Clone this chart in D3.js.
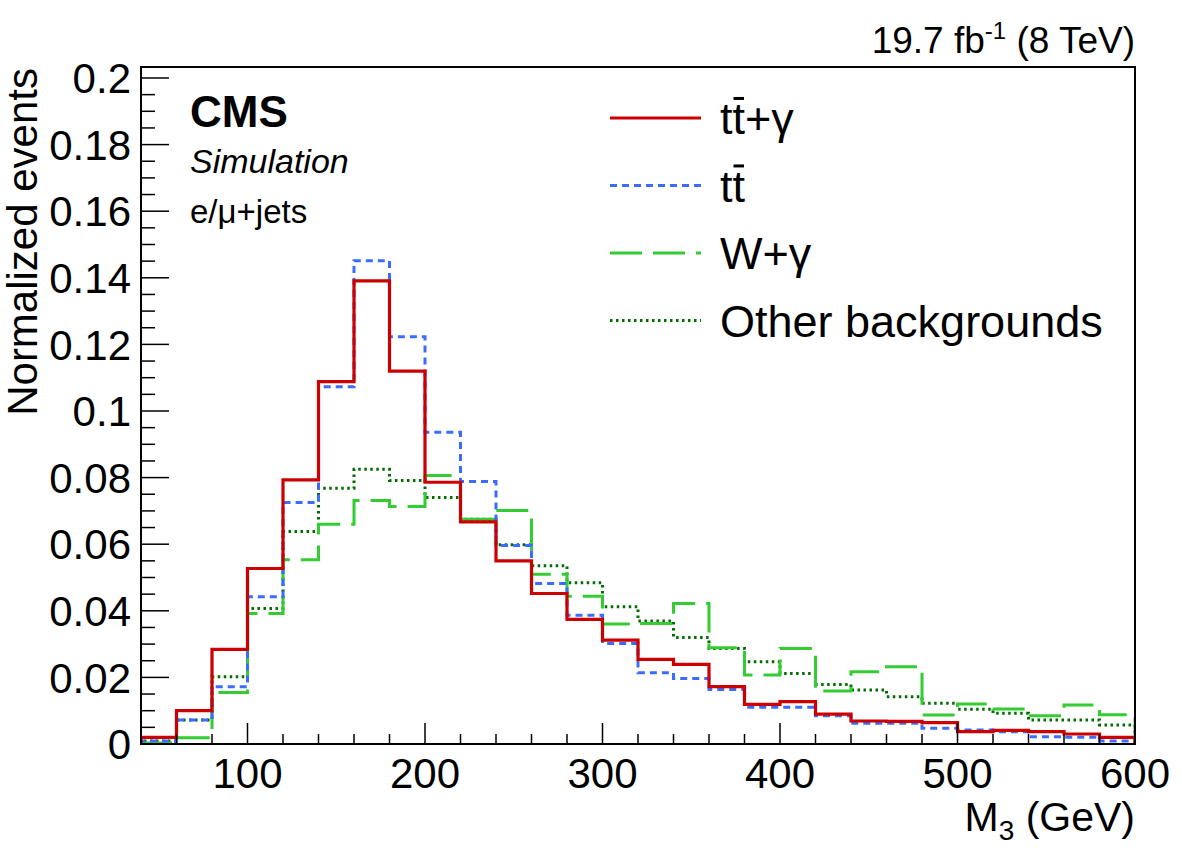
<!DOCTYPE html>
<html>
<head>
<meta charset="utf-8">
<script src="https://cdn.jsdelivr.net/npm/d3@7"></script>
<style>
    body { margin: 0; background: #fff; }
    text { font-family: "Liberation Sans", Arial, Helvetica, sans-serif; }
</style>
</head>
<body>
<div id="plot"></div>
<script>
// bin low edges in GeV, 20 GeV wide
var bin_edges = [40, 60, 80, 100, 120, 140, 160, 180, 200, 220, 240, 260, 280, 300,
    320, 340, 360, 380, 400, 420, 440, 460, 480, 500, 520, 540, 560, 580]
var bin_width = 20

var ttgamma = [0.0020, 0.0100, 0.0284, 0.0527, 0.0793, 0.1088, 0.1391, 0.1120, 0.0786, 0.0667,
    0.0550, 0.0452, 0.0374, 0.0312, 0.0254, 0.0239, 0.0172, 0.0119, 0.0127, 0.0090,
    0.0069, 0.0068, 0.0064, 0.0037, 0.0041, 0.0037, 0.0030, 0.0020]
var ttbar = [0.0009, 0.0072, 0.0172, 0.0442, 0.0725, 0.1073, 0.1451, 0.1223, 0.0936, 0.0788,
    0.0596, 0.0482, 0.0387, 0.0302, 0.0214, 0.0197, 0.0164, 0.0110, 0.0110, 0.0085,
    0.0062, 0.0062, 0.0047, 0.0042, 0.0037, 0.0022, 0.0020, 0.0009]
var wgamma = [0.0003, 0.0019, 0.0155, 0.0392, 0.0553, 0.0660, 0.0731, 0.0713, 0.0806, 0.0675,
    0.0701, 0.0510, 0.0444, 0.0360, 0.0362, 0.0422, 0.0289, 0.0207, 0.0287, 0.0159,
    0.0217, 0.0232, 0.0087, 0.0120, 0.0105, 0.0085, 0.0117, 0.0088]
var other_bkg = [0.0009, 0.0072, 0.0202, 0.0407, 0.0638, 0.0768, 0.0825, 0.0791, 0.0740, 0.0675,
    0.0598, 0.0535, 0.0484, 0.0412, 0.0369, 0.0320, 0.0287, 0.0247, 0.0212, 0.0179,
    0.0162, 0.0142, 0.0122, 0.0104, 0.0092, 0.0072, 0.0072, 0.0057]

var y_ticks = [0, 0.02, 0.04, 0.06, 0.08, 0.1, 0.12, 0.14, 0.16, 0.18, 0.2]
var y_tick_labels = ['0', '0.02', '0.04', '0.06', '0.08', '0.1', '0.12', '0.14', '0.16', '0.18', '0.2']
var x_ticks = [100, 200, 300, 400, 500, 600]

var series = [
    { name: 'ttgamma', values: ttgamma, color: '#cc0000', dash: null },
    { name: 'ttbar', values: ttbar, color: '#3b6cff', dash: '7,5' },
    { name: 'wgamma', values: wgamma, color: '#33cc33', dash: '32,11' },
    { name: 'other', values: other_bkg, color: '#006d00', dash: '2.5,3.5' }
]

var W = 1182, H = 848
var margin = { top: 67, right: 47, bottom: 104, left: 141 }
const plot_width = W - margin.left - margin.right,
    plot_height = H - margin.top - margin.bottom

var svg = d3.select('#plot')
    .append('svg')
    .attr('width', W)
    .attr('height', H)

var plot = svg.append('g')
    .attr('transform', `translate(${margin.left},${margin.top})`)

var x = d3.scaleLinear().domain([40, 600]).range([0, plot_width])
var y = d3.scaleLinear().domain([0, 0.2033]).range([plot_height, 0])

// histograms as step outlines
var line = d3.line()
    .x(function (d) { return x(d[0]) })
    .y(function (d) { return y(d[1]) })

function steps(values) {
    var pts = [[bin_edges[0], 0]]
    for (let i = 0; i < values.length; i++) {
        pts.push([bin_edges[i], values[i]])
        pts.push([bin_edges[i] + bin_width, values[i]])
    }
    pts.push([bin_edges[bin_edges.length - 1] + bin_width, 0])
    return pts
}

plot.append('defs').append('clipPath').attr('id', 'clip')
    .append('rect').attr('width', plot_width).attr('height', plot_height + 2)

plot.selectAll('.hist')
    .data(series.slice().reverse())
    .enter().append('path')
    .attr('class', 'hist')
    .attr('clip-path', 'url(#clip)')
    .attr('d', function (d) { return line(steps(d.values)) })
    .attr('fill', 'none')
    .attr('stroke', function (d) { return d.color })
    .attr('stroke-width', function (d) { return d.name == 'ttgamma' ? 3.2 : 3 })
    .attr('stroke-dasharray', function (d) { return d.dash })

// frame
plot.append('rect')
    .attr('width', plot_width)
    .attr('height', plot_height)
    .attr('fill', 'none')
    .attr('stroke', '#000')
    .attr('stroke-width', 2)

// y axis ticks
var y_minor = d3.range(0, 0.2031, 0.005)
plot.selectAll('.ytick')
    .data(y_minor)
    .enter().append('line')
    .attr('x1', 0)
    .attr('x2', function (d, i) { return i % 4 == 0 ? 28 : 14 })
    .attr('y1', function (d) { return y(d) })
    .attr('y2', function (d) { return y(d) })
    .attr('stroke', '#000')
    .attr('stroke-width', 1.5)

plot.selectAll('.ylab')
    .data(y_ticks)
    .enter().append('text')
    .attr('x', -10)
    .attr('y', function (d) { return y(d) })
    .attr('dy', '0.36em')
    .attr('text-anchor', 'end')
    .style('font-size', '42px')
    .text(function (d, i) { return y_tick_labels[i] })

// x axis ticks
var x_minor = d3.range(40, 601, 20)
plot.selectAll('.xtick')
    .data(x_minor)
    .enter().append('line')
    .attr('x1', function (d) { return x(d) })
    .attr('x2', function (d) { return x(d) })
    .attr('y1', plot_height)
    .attr('y2', function (d) { return d % 100 == 0 ? plot_height - 21 : plot_height - 10 })
    .attr('stroke', '#000')
    .attr('stroke-width', 1.5)

plot.selectAll('.xlab')
    .data(x_ticks)
    .enter().append('text')
    .attr('x', function (d) { return x(d) })
    .attr('y', plot_height + 44)
    .attr('text-anchor', 'middle')
    .style('font-size', '42px')
    .text(function (d) { return d })

// axis titles
var xt = svg.append('text')
    .attr('x', margin.left + plot_width)
    .attr('y', 831)
    .attr('text-anchor', 'end')
    .style('font-size', '41px')
xt.append('tspan').text('M')
xt.append('tspan').attr('dy', 9).style('font-size', '28px').text('3')
xt.append('tspan').attr('dy', -9).text(' (GeV)')

svg.append('text')
    .attr('transform', 'translate(37,68) rotate(-90)')
    .attr('text-anchor', 'end')
    .style('font-size', '42px')
    .text('Normalized events')

// lumi label
var lumi = svg.append('text')
    .attr('x', margin.left + plot_width)
    .attr('y', 53)
    .attr('text-anchor', 'end')
    .style('font-size', '37px')
lumi.append('tspan').text('19.7 fb')
lumi.append('tspan').attr('dy', -14).style('font-size', '24px').text('-1')
lumi.append('tspan').attr('dy', 14).text(' (8 TeV)')

svg.append('text')
    .attr('x', 190).attr('y', 127)
    .style('font-size', '44px')
    .style('font-weight', 'bold')
    .text('CMS')
svg.append('text')
    .attr('x', 190).attr('y', 173)
    .style('font-size', '34px')
    .style('font-style', 'italic')
    .text('Simulation')
svg.append('text')
    .attr('x', 190).attr('y', 223)
    .style('font-size', '33px')
    .text('e/\u03bc+jets')

// legend; second char of the tt labels gets a bar
var legend_labels = ['tt+\u03b3', 'tt', 'W+\u03b3', 'Other backgrounds']
var legend_bar = [true, true, false, false]
var leg_size = 45

var leg = svg.selectAll('.legend')
    .data(series)
    .enter().append('g')
    .attr('class', 'legend')
    .attr('transform', function (d, i) { return `translate(610,${118 + i * 67.5})` })

leg.append('line')
    .attr('x1', 0).attr('x2', 91)
    .attr('stroke', function (d) { return d.color })
    .attr('stroke-width', 3)
    .attr('stroke-dasharray', function (d) { return d.dash })

leg.append('text')
    .attr('x', 110)
    .attr('y', 16)
    .style('font-size', leg_size + 'px')
    .text(function (d, i) { return legend_labels[i] })
    .each(function (d, i) {
        if (!legend_bar[i]) return
        var ext = this.getExtentOfChar(1)
        d3.select(this.parentNode).append('line')
            .attr('x1', ext.x + 1)
            .attr('x2', ext.x + ext.width - 1)
            .attr('y1', 16 - leg_size * 0.79)
            .attr('y2', 16 - leg_size * 0.79)
            .attr('stroke', '#000')
            .attr('stroke-width', 3)
    })
</script>
</body>
</html>
